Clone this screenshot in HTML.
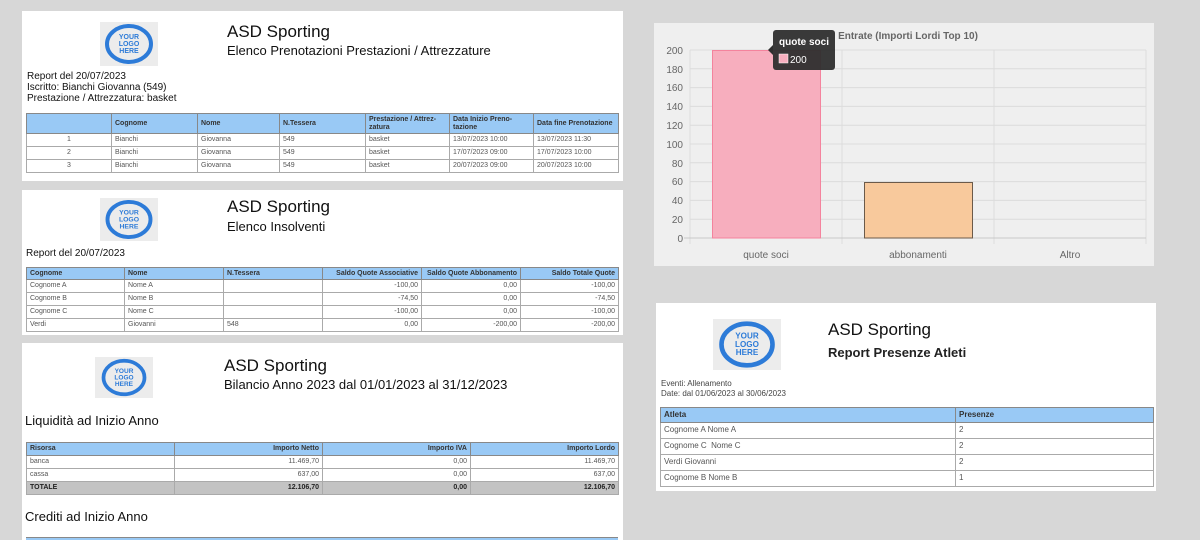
<!DOCTYPE html>
<html><head><meta charset="utf-8"><style>
*{margin:0;padding:0;box-sizing:border-box}
html,body{width:1200px;height:540px;overflow:hidden}
body{background:#d7d7d7;position:relative;font-family:"Liberation Sans",Arial,sans-serif;color:#111}
.p{position:absolute;background:#fff}
.a{position:absolute;white-space:nowrap}
.logo{position:absolute;background:#ececec}
.logo svg{width:100%;height:100%}
table{position:absolute;border-collapse:collapse;table-layout:fixed;font-size:7px;color:#555}
td,th{border:1px solid #aaa;padding:0 3px;overflow:hidden;white-space:nowrap;line-height:1.1;vertical-align:middle}
th{background:#99c9f5;color:#333;font-weight:bold;text-align:left;border-color:#888}
.r{text-align:right}.c{text-align:center}
.tot td{background:#c3c3c3;color:#222;font-weight:bold}
.t1{font-size:17px}.t2{font-size:13px}
</style></head><body>
<div class="p" style="left:22px;top:11px;width:601px;height:170px"></div>
<div class="logo" style="left:100px;top:22px;width:58px;height:44px"><svg viewBox="0 0 58 44"><ellipse cx="29" cy="22" rx="22" ry="18" fill="none" stroke="#2d7bd8" stroke-width="4"/><text x="29" y="17" font-size="7" font-weight="bold" fill="#2d7bd8" text-anchor="middle" font-family="Liberation Sans">YOUR</text><text x="29" y="24" font-size="7" font-weight="bold" fill="#2d7bd8" text-anchor="middle" font-family="Liberation Sans">LOGO</text><text x="29" y="31" font-size="7" font-weight="bold" fill="#2d7bd8" text-anchor="middle" font-family="Liberation Sans">HERE</text></svg></div>
<div class="a t1" style="left:227px;top:22px">ASD Sporting</div>
<div class="a t2" style="left:227px;top:43px">Elenco Prenotazioni Prestazioni / Attrezzature</div>
<div class="a" style="left:27px;top:71px;font-size:10px;line-height:11px">Report del 20/07/2023<br>Iscritto: Bianchi Giovanna (549)<br>Prestazione / Attrezzatura: basket</div>
<table style="left:26px;top:113px;width:592px">
<colgroup><col style="width:85px"><col style="width:86px"><col style="width:82px"><col style="width:86px"><col style="width:84px"><col style="width:84px"><col style="width:85px"></colgroup>
<tr style="height:20px"><th></th><th>Cognome</th><th>Nome</th><th>N.Tessera</th><th style="white-space:normal">Prestazione / Attrez-zatura</th><th style="white-space:normal">Data Inizio Preno-tazione</th><th>Data fine Prenotazione</th></tr>
<tr style="height:13px"><td class="c">1</td><td>Bianchi</td><td>Giovanna</td><td>549</td><td>basket</td><td>13/07/2023 10:00</td><td>13/07/2023 11:30</td></tr>
<tr style="height:13px"><td class="c">2</td><td>Bianchi</td><td>Giovanna</td><td>549</td><td>basket</td><td>17/07/2023 09:00</td><td>17/07/2023 10:00</td></tr>
<tr style="height:13px"><td class="c">3</td><td>Bianchi</td><td>Giovanna</td><td>549</td><td>basket</td><td>20/07/2023 09:00</td><td>20/07/2023 10:00</td></tr>
</table>

<div class="p" style="left:22px;top:190px;width:601px;height:145px"></div>
<div class="logo" style="left:100px;top:198px;width:58px;height:43px"><svg viewBox="0 0 58 44"><ellipse cx="29" cy="22" rx="22" ry="18" fill="none" stroke="#2d7bd8" stroke-width="4"/><text x="29" y="17" font-size="7" font-weight="bold" fill="#2d7bd8" text-anchor="middle" font-family="Liberation Sans">YOUR</text><text x="29" y="24" font-size="7" font-weight="bold" fill="#2d7bd8" text-anchor="middle" font-family="Liberation Sans">LOGO</text><text x="29" y="31" font-size="7" font-weight="bold" fill="#2d7bd8" text-anchor="middle" font-family="Liberation Sans">HERE</text></svg></div>
<div class="a t1" style="left:227px;top:197px">ASD Sporting</div>
<div class="a t2" style="left:227px;top:219px">Elenco Insolventi</div>
<div class="a" style="left:26px;top:248px;font-size:10px">Report del 20/07/2023</div>
<table style="left:26px;top:267px;width:592px">
<colgroup><col style="width:98px"><col style="width:99px"><col style="width:99px"><col style="width:99px"><col style="width:99px"><col style="width:98px"></colgroup>
<tr style="height:12px"><th>Cognome</th><th>Nome</th><th>N.Tessera</th><th class="r">Saldo Quote Associative</th><th class="r">Saldo Quote Abbonamento</th><th class="r">Saldo Totale Quote</th></tr>
<tr style="height:13px"><td>Cognome A</td><td>Nome A</td><td></td><td class="r">-100,00</td><td class="r">0,00</td><td class="r">-100,00</td></tr>
<tr style="height:13px"><td>Cognome B</td><td>Nome B</td><td></td><td class="r">-74,50</td><td class="r">0,00</td><td class="r">-74,50</td></tr>
<tr style="height:13px"><td>Cognome C</td><td>Nome C</td><td></td><td class="r">-100,00</td><td class="r">0,00</td><td class="r">-100,00</td></tr>
<tr style="height:13px"><td>Verdi</td><td>Giovanni</td><td>548</td><td class="r">0,00</td><td class="r">-200,00</td><td class="r">-200,00</td></tr>
</table>

<div class="p" style="left:22px;top:343px;width:601px;height:197px"></div>
<div class="logo" style="left:95px;top:357px;width:58px;height:41px"><svg viewBox="0 0 58 44"><ellipse cx="29" cy="22" rx="22" ry="18" fill="none" stroke="#2d7bd8" stroke-width="4"/><text x="29" y="17" font-size="7" font-weight="bold" fill="#2d7bd8" text-anchor="middle" font-family="Liberation Sans">YOUR</text><text x="29" y="24" font-size="7" font-weight="bold" fill="#2d7bd8" text-anchor="middle" font-family="Liberation Sans">LOGO</text><text x="29" y="31" font-size="7" font-weight="bold" fill="#2d7bd8" text-anchor="middle" font-family="Liberation Sans">HERE</text></svg></div>
<div class="a t1" style="left:224px;top:356px">ASD Sporting</div>
<div class="a t2" style="left:224px;top:377px">Bilancio Anno 2023 dal 01/01/2023 al 31/12/2023</div>
<div class="a" style="left:25px;top:413px;font-size:13px">Liquidità ad Inizio Anno</div>
<table style="left:26px;top:442px;width:592px">
<colgroup><col style="width:148px"><col style="width:148px"><col style="width:148px"><col style="width:148px"></colgroup>
<tr style="height:13px"><th>Risorsa</th><th class="r">Importo Netto</th><th class="r">Importo IVA</th><th class="r">Importo Lordo</th></tr>
<tr style="height:13px"><td>banca</td><td class="r">11.469,70</td><td class="r">0,00</td><td class="r">11.469,70</td></tr>
<tr style="height:13px"><td>cassa</td><td class="r">637,00</td><td class="r">0,00</td><td class="r">637,00</td></tr>
<tr class="tot" style="height:13px"><td>TOTALE</td><td class="r">12.106,70</td><td class="r">0,00</td><td class="r">12.106,70</td></tr>
</table>
<div class="a" style="left:25px;top:509px;font-size:13px">Crediti ad Inizio Anno</div>
<div class="a" style="left:26px;top:537px;width:592px;height:3px;background:#99c9f5;border-top:1px solid #888"></div>

<div class="p" style="left:654px;top:23px;width:500px;height:243px;background:#efefef"></div>
<svg class="a" style="left:0;top:0" width="1200" height="540" font-family="Liberation Sans">
<g stroke="#dcdcdc" stroke-width="1">
<line x1="690" y1="50" x2="1146" y2="50"/><line x1="690" y1="68.8" x2="1146" y2="68.8"/><line x1="690" y1="87.6" x2="1146" y2="87.6"/><line x1="690" y1="106.4" x2="1146" y2="106.4"/><line x1="690" y1="125.2" x2="1146" y2="125.2"/><line x1="690" y1="144" x2="1146" y2="144"/><line x1="690" y1="162.8" x2="1146" y2="162.8"/><line x1="690" y1="181.6" x2="1146" y2="181.6"/><line x1="690" y1="200.4" x2="1146" y2="200.4"/><line x1="690" y1="219.2" x2="1146" y2="219.2"/>
<line x1="690" y1="50" x2="690" y2="244"/><line x1="842" y1="50" x2="842" y2="244"/><line x1="994" y1="50" x2="994" y2="244"/><line x1="1146" y1="50" x2="1146" y2="244"/>
</g>
<line x1="684" y1="238" x2="1146" y2="238" stroke="#c8c8c8"/>
<rect x="712.5" y="50.5" width="108" height="187.5" fill="#f7aebe" stroke="#f4839d"/>
<rect x="864.5" y="182.5" width="108" height="55.5" fill="#f8c99c" stroke="#6b5a4a"/>
<g font-size="10" fill="#666" text-anchor="end">
<text x="683" y="54">200</text><text x="683" y="73">180</text><text x="683" y="91">160</text><text x="683" y="110">140</text><text x="683" y="129">120</text><text x="683" y="148">100</text><text x="683" y="167">80</text><text x="683" y="185">60</text><text x="683" y="204">40</text><text x="683" y="223">20</text><text x="683" y="242">0</text>
</g>
<g font-size="10" fill="#666" text-anchor="middle"><text x="766" y="258">quote soci</text><text x="918" y="258">abbonamenti</text><text x="1070" y="258">Altro</text></g>
<text x="908" y="39" font-size="10" font-weight="bold" fill="#666" text-anchor="middle">Entrate (Importi Lordi Top 10)</text>
<rect x="773" y="30" width="62" height="40" rx="3" fill="#2e2e2e" opacity="0.95"/>
<path d="M773 45 L768 50 L773 55Z" fill="#2e2e2e"/>
<text x="779" y="45" font-size="10" font-weight="bold" fill="#fff">quote soci</text>
<rect x="779" y="54" width="9" height="9" fill="#f7aebe" stroke="#fff" stroke-width="0.5"/>
<text x="790" y="63" font-size="10" fill="#fff">200</text>
</svg>

<div class="p" style="left:656px;top:303px;width:500px;height:188px"></div>
<div class="logo" style="left:713px;top:319px;width:68px;height:51px"><svg viewBox="0 0 58 44"><ellipse cx="29" cy="22" rx="22" ry="18" fill="none" stroke="#2d7bd8" stroke-width="4"/><text x="29" y="17" font-size="7" font-weight="bold" fill="#2d7bd8" text-anchor="middle" font-family="Liberation Sans">YOUR</text><text x="29" y="24" font-size="7" font-weight="bold" fill="#2d7bd8" text-anchor="middle" font-family="Liberation Sans">LOGO</text><text x="29" y="31" font-size="7" font-weight="bold" fill="#2d7bd8" text-anchor="middle" font-family="Liberation Sans">HERE</text></svg></div>
<div class="a t1" style="left:828px;top:320px">ASD Sporting</div>
<div class="a t2" style="left:828px;top:345px;font-weight:bold;color:#222">Report Presenze Atleti</div>
<div class="a" style="left:661px;top:379px;font-size:8px;line-height:10px;color:#444">Eventi: Allenamento<br>Date: dal 01/06/2023 al 30/06/2023</div>
<table style="left:660px;top:407px;width:493px;font-size:8px">
<colgroup><col style="width:295px"><col style="width:198px"></colgroup>
<tr style="height:15px"><th>Atleta</th><th>Presenze</th></tr>
<tr style="height:16px"><td>Cognome A Nome A</td><td>2</td></tr>
<tr style="height:16px"><td>Cognome C&nbsp; Nome C</td><td>2</td></tr>
<tr style="height:16px"><td>Verdi Giovanni</td><td>2</td></tr>
<tr style="height:16px"><td>Cognome B Nome B</td><td>1</td></tr>
</table>
</body></html>
